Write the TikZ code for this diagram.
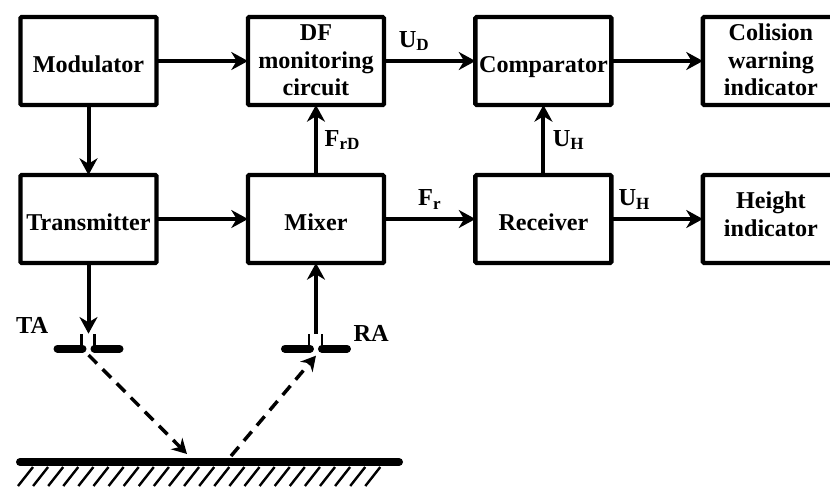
\documentclass[tikz,border=0pt]{standalone}
\usepackage{fontspec}
\setmainfont{Liberation Serif}
\usetikzlibrary{arrows.meta,positioning}

\begin{document}
\begin{tikzpicture}[
    x=0.75pt, y=0.75pt,
    block/.style={rectangle, draw, line width=3.3pt, rounded corners=1pt, minimum width=102pt, minimum height=66pt, inner sep=0pt, outer sep=0pt, align=center, font=\fontsize{18.1}{20.6}\selectfont\bfseries, text height=16.5pt, text depth=0pt},
    twolines/.style={text height=25.5pt},
    threelines/.style={text height=52pt},
    arrow/.style={-{Stealth[length=12.5pt, width=13.5pt, inset=4pt]}, line width=3pt},
    beam/.style={-{Stealth[length=11pt, width=12pt, inset=3.5pt]}, line width=2.6pt, dash pattern=on 9pt off 6pt},
    antenna/.style={line width=6pt, line cap=round},
    stub/.style={line width=2pt},
    signal/.style={inner sep=0pt, font=\fontsize{18.3}{20}\selectfont\bfseries},
    node distance=52.5pt and 68.6pt
]
    \useasboundingbox (0,0) rectangle (830,-487);
    \clip (0,0) rectangle (830,-487);

    \node[block] (mod) at (88.5,-61) {Modulator};
    \node[block, right=of mod, threelines] (df) {DF\\monitoring\\circuit};
    \node[block, right=of df] (comp) {Comparator};
    \node[block, right=of comp, threelines] (warn) {Colision\\warning\\indicator};
    \node[block, below=of mod] (trans) {Transmitter};
    \node[block, below=of df] (mixer) {Mixer};
    \node[block, below=of comp] (recv) {Receiver};
    \node[block, below=of warn, twolines] (height) {Height\\indicator};

    \coordinate[below=53pt of trans] (tafeed);
    \coordinate[below=53pt of mixer] (rafeed);
    \coordinate (gndl) at (20,-462);
    \coordinate (gndr) at (399,-462);
    \coordinate[below=16pt of tafeed] (tabeam);
    \coordinate[below=16.5pt of rafeed] (rabeam);
    \coordinate (tahit) at (187,-454);
    \coordinate (rahit) at (231,-456);

    \draw[arrow] (mod) -- (df);
    \draw[arrow] (df) -- node[signal, above=6pt, pos=0.33] {U\textsubscript{D}} (comp);
    \draw[arrow] (comp) -- (warn);
    \draw[arrow] (mod) -- (trans);
    \draw[arrow] (trans) -- (mixer);
    \draw[arrow] (mixer) -- node[signal, right=5pt] {F\textsubscript{rD}} (df);
    \draw[arrow] (mixer) -- node[signal, above=6pt] {F\textsubscript{r}} (recv);
    \draw[arrow] (recv) -- node[signal, right=5.5pt] {U\textsubscript{H}} (comp);
    \draw[arrow] (recv) -- node[signal, above=6pt, pos=0.25] {U\textsubscript{H}} (height);
    \draw[arrow] (trans) -- (tafeed);
    \draw[arrow] (rafeed) -- (mixer);

    \foreach \feed in {tafeed,rafeed} {
        \draw[antenna] ([shift={(-31,-15)}]\feed) -- ([shift={(-6,-15)}]\feed);
        \draw[antenna] ([shift={(6,-15)}]\feed) -- ([shift={(31,-15)}]\feed);
        \draw[stub] ([shift={(-7,-15)}]\feed) -- ([shift={(-7,0)}]\feed);
        \draw[stub] ([shift={(6,-15)}]\feed) -- ([shift={(6,0)}]\feed);
    }
    \node[signal, left=30pt of tafeed, yshift=6pt] (ta) {TA};
    \node[signal, right=28pt of rafeed] (ra) {RA};

    \draw[beam] (tabeam) -- (tahit);
    \draw[beam] (rahit) -- (rabeam);

    \draw[line width=6pt, line cap=round] (gndl) -- (gndr);
    \foreach \i in {0,...,23}
        \draw[line width=1.8pt] (33+15.1*\i,-467) -- (18+15.1*\i,-486);
\end{tikzpicture}
\end{document}
